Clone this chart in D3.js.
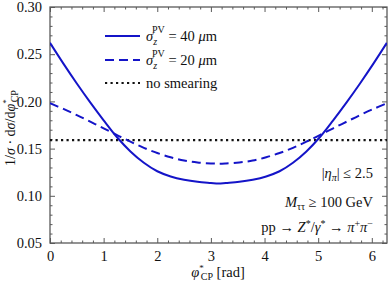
<!DOCTYPE html>
<html>
<head>
<meta charset="utf-8">
<script src="https://cdn.jsdelivr.net/npm/d3@7"></script>
<style>
  body { margin: 0; background: #fff; }
  svg { font-family: 'Liberation Serif', 'DejaVu Serif', serif; }
</style>
</head>
<body>
<svg id="chart"></svg>
<script>
// phi*_CP values (rad)
const phi = [0, 0.25, 0.5, 0.75, 1, 1.25, 1.5, 1.75, 2, 2.25, 2.5, 2.75, 3, 3.14,
  3.28, 3.53, 3.78, 4.03, 4.28, 4.53, 4.78, 5.03, 5.28, 5.53, 5.78, 6.03, 6.28]
// sigma_z^PV = 40 um
const smear40 = [0.262, 0.240, 0.219, 0.199, 0.180, 0.162, 0.147, 0.135, 0.126, 0.1205, 0.117, 0.1148, 0.1136, 0.113,
  0.1136, 0.1148, 0.117, 0.1205, 0.126, 0.135, 0.147, 0.162, 0.180, 0.199, 0.219, 0.240, 0.262]
// sigma_z^PV = 20 um
const smear20 = [0.198, 0.192, 0.1855, 0.1785, 0.1715, 0.1643, 0.1573, 0.1508, 0.1453, 0.1408, 0.1373, 0.1353, 0.1343, 0.134,
  0.1343, 0.1353, 0.1373, 0.1408, 0.1453, 0.1508, 0.1573, 0.1643, 0.1715, 0.1785, 0.1855, 0.192, 0.198]
// no smearing: flat
const noSmear = [0.159, 0.159]
const noSmearPhi = [0, 6.2832]

const xTicks = [0, 1, 2, 3, 4, 5, 6]
const yTicks = [0.05, 0.10, 0.15, 0.20, 0.25, 0.30]

const width = 389, height = 284
const margin = {top: 7, right: 2, bottom: 41, left: 50}
const blue = '#1414c8'
const frame = '#5a5a5a'

const svg = d3.select('#chart').attr('width', width).attr('height', height)

const x = d3.scaleLinear().domain([0, 2 * Math.PI]).range([margin.left, width - margin.right])
const y = d3.scaleLinear().domain([0.05, 0.30]).range([height - margin.bottom, margin.top])

const minorX = d3.range(0, 6.3, 0.2).filter((v) => Math.abs(v - Math.round(v)) > 1e-6)
const minorY = d3.range(0.05, 0.3001, 0.01).filter((v) => Math.abs(v * 20 - Math.round(v * 20)) > 1e-6)

function drawAxis(axisFn, scale, major, minor, transform, labels) {
  const g = svg.append('g').attr('transform', transform)
  g.call(axisFn(scale).tickValues(minor).tickSize(-2.5).tickFormat(''))
  const g2 = svg.append('g').attr('transform', transform)
  g2.call(axisFn(scale).tickValues(major).tickSize(-5).tickPadding(labels ? 8 : 0)
    .tickFormat(labels ? labels : ''))
  ;[g, g2].forEach((s) => {
    s.select('.domain').remove()
    s.selectAll('line').attr('stroke', frame).attr('stroke-width', 1)
    s.selectAll('text').attr('fill', '#111').style('font-size', '14.5px')
      .style('font-family', "'Liberation Serif', serif")
  })
  return g2
}

const bottomY = height - margin.bottom
drawAxis(d3.axisBottom, x, xTicks, minorX, `translate(0,${bottomY})`, d3.format('d'))
drawAxis(d3.axisTop, x, xTicks, minorX, `translate(0,${margin.top})`, null)
drawAxis(d3.axisLeft, y, yTicks, minorY, `translate(${margin.left},0)`, d3.format('.2f'))
drawAxis(d3.axisRight, y, yTicks, minorY, `translate(${width - margin.right},0)`, null)

// frame
svg.append('rect')
  .attr('x', margin.left).attr('y', margin.top)
  .attr('width', width - margin.right - margin.left)
  .attr('height', bottomY - margin.top)
  .attr('fill', 'none').attr('stroke', frame).attr('stroke-width', 1.3)

svg.append('clipPath').attr('id', 'clip').append('rect')
  .attr('x', margin.left).attr('y', margin.top)
  .attr('width', width - margin.right - margin.left).attr('height', bottomY - margin.top)

const line = d3.line().x((d) => x(d[0])).y((d) => y(d[1])).curve(d3.curveCatmullRom)
const plot = svg.append('g').attr('clip-path', 'url(#clip)')

plot.append('path').attr('d', line(d3.zip(noSmearPhi, noSmear)))
  .attr('fill', 'none').attr('stroke', '#111').attr('stroke-width', 2.2).attr('stroke-dasharray', '2.2,3.3')
plot.append('path').attr('d', line(d3.zip(phi, smear20)))
  .attr('fill', 'none').attr('stroke', blue).attr('stroke-width', 2).attr('stroke-dasharray', '9,5')
plot.append('path').attr('d', line(d3.zip(phi, smear40)))
  .attr('fill', 'none').attr('stroke', blue).attr('stroke-width', 2)

// legend
const legend = [
  {dash: null, color: blue, val: '40', y: 36},
  {dash: '9,5', color: blue, val: '20', y: 60},
  {dash: '2.2,3.3', color: '#111', val: null, y: 83},
]
legend.forEach((d) => {
  svg.append('line').attr('x1', 105).attr('x2', 140).attr('y1', d.y).attr('y2', d.y)
    .attr('stroke', d.color).attr('stroke-width', 2).attr('stroke-dasharray', d.dash)
  const t = svg.append('text').attr('x', 146).attr('y', d.y + 5).style('font-size', '14.5px').attr('fill', '#111')
  if (d.val) {
    t.append('tspan').style('font-style', 'italic').text('σ')
    t.append('tspan').attr('dy', 4).style('font-size', '10px').style('font-style', 'italic').text('z')
    t.append('tspan').attr('dx', -5).attr('dy', -12).style('font-size', '10px').text('PV')
    t.append('tspan').attr('dy', 8).text(` = ${d.val} `)
    t.append('tspan').style('font-style', 'italic').text('μ')
    t.append('tspan').text('m')
  } else {
    t.text('no smearing')
  }
})

// annotations
const ax = 373
const a1 = svg.append('text').attr('x', ax).attr('y', 178).attr('text-anchor', 'end')
  .style('font-size', '14.5px').attr('fill', '#111')
a1.append('tspan').text('|')
a1.append('tspan').style('font-style', 'italic').text('η')
a1.append('tspan').attr('dy', 3).style('font-size', '10px').style('font-style', 'italic').text('π')
a1.append('tspan').attr('dy', -3).text('| ≤ 2.5')

const a2 = svg.append('text').attr('x', ax).attr('y', 207).attr('text-anchor', 'end')
  .style('font-size', '14.5px').attr('fill', '#111')
a2.append('tspan').style('font-style', 'italic').text('M')
a2.append('tspan').attr('dy', 3).style('font-size', '10px').text('ττ')
a2.append('tspan').attr('dy', -3).text(' ≥ 100 GeV')

const a3 = svg.append('text').attr('x', ax).attr('y', 232).attr('text-anchor', 'end')
  .style('font-size', '14.5px').attr('fill', '#111')
a3.append('tspan').text('pp → ')
a3.append('tspan').style('font-style', 'italic').text('Z')
a3.append('tspan').attr('dy', -5).style('font-size', '10px').text('*')
a3.append('tspan').attr('dy', 5).text('/')
a3.append('tspan').style('font-style', 'italic').text('γ')
a3.append('tspan').attr('dy', -5).style('font-size', '10px').text('*')
a3.append('tspan').attr('dy', 5).text(' → ')
a3.append('tspan').style('font-style', 'italic').text('π')
a3.append('tspan').attr('dy', -5).style('font-size', '10px').text('+')
a3.append('tspan').attr('dy', 5).style('font-style', 'italic').text('π')
a3.append('tspan').attr('dy', -5).style('font-size', '10px').text('−')

// x axis title
const xt = svg.append('text').attr('x', 218).attr('y', 277).attr('text-anchor', 'middle')
  .style('font-size', '14.5px').attr('fill', '#111')
xt.append('tspan').style('font-style', 'italic').text('φ')
xt.append('tspan').attr('dy', -6).style('font-size', '9px').text('*')
xt.append('tspan').attr('dx', -3).attr('dy', 9).style('font-size', '10px').text('CP')
xt.append('tspan').attr('dy', -3).text(' [rad]')

// y axis title
const yt = svg.append('text').attr('transform', `translate(15,${(margin.top + bottomY) / 2 + 3}) rotate(-90)`)
  .attr('text-anchor', 'middle').style('font-size', '14px').attr('fill', '#111')
yt.append('tspan').text('1/')
yt.append('tspan').style('font-style', 'italic').text('σ')
yt.append('tspan').text(' · d')
yt.append('tspan').style('font-style', 'italic').text('σ')
yt.append('tspan').text('/d')
yt.append('tspan').style('font-style', 'italic').text('φ')
yt.append('tspan').attr('dy', -6).style('font-size', '9px').text('*')
yt.append('tspan').attr('dx', -3).attr('dy', 9).style('font-size', '10px').text('CP')
</script>
</body>
</html>
